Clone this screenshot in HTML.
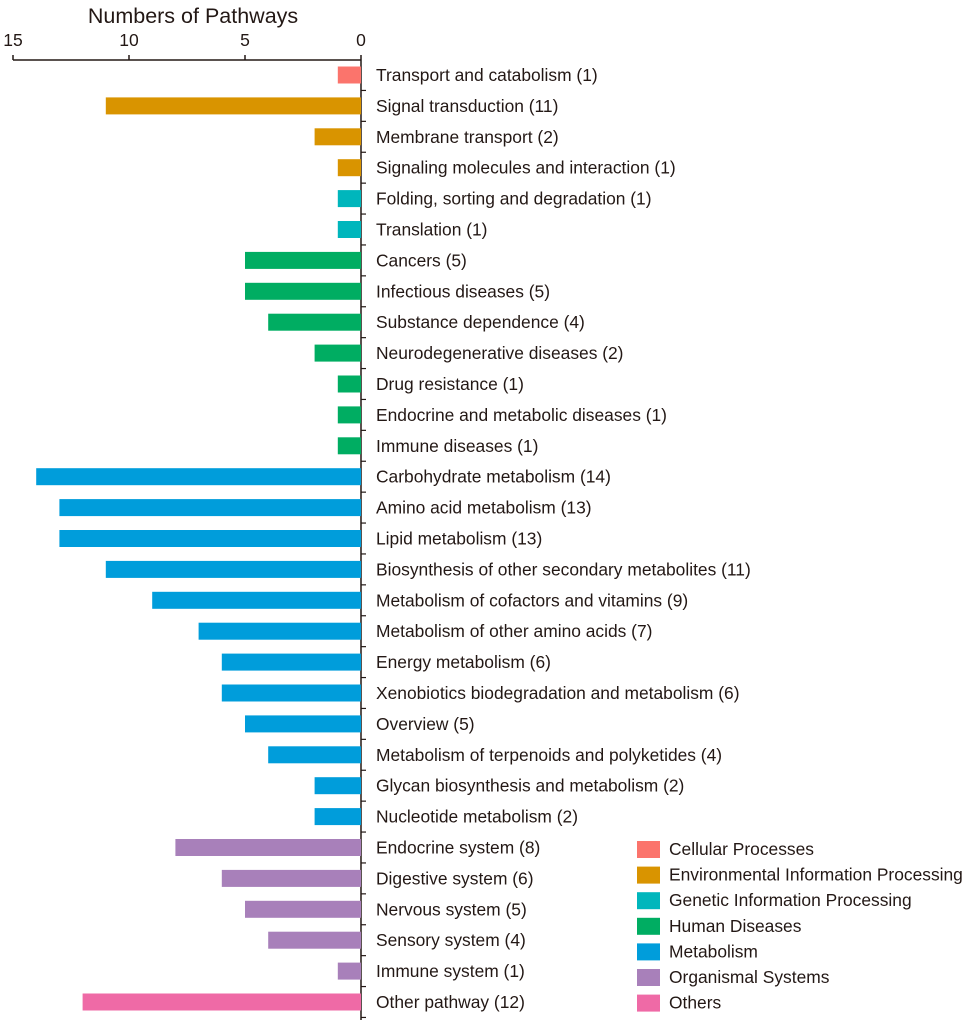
<!DOCTYPE html>
<html><head><meta charset="utf-8"><style>
body{margin:0;background:#fff;}
svg text{font-family:"Liberation Sans",Arial,sans-serif;fill:#231815;}
</style></head><body>
<svg id="chart" width="969" height="1024" xmlns="http://www.w3.org/2000/svg"></svg>
<script>
const categories=["Transport and catabolism","Signal transduction","Membrane transport","Signaling molecules and interaction","Folding, sorting and degradation","Translation","Cancers","Infectious diseases","Substance dependence","Neurodegenerative diseases","Drug resistance","Endocrine and metabolic diseases","Immune diseases","Carbohydrate metabolism","Amino acid metabolism","Lipid metabolism","Biosynthesis of other secondary metabolites","Metabolism of cofactors and vitamins","Metabolism of other amino acids","Energy metabolism","Xenobiotics biodegradation and metabolism","Overview","Metabolism of terpenoids and polyketides","Glycan biosynthesis and metabolism","Nucleotide metabolism","Endocrine system","Digestive system","Nervous system","Sensory system","Immune system","Other pathway"];
const values=[1,11,2,1,1,1,5,5,4,2,1,1,1,14,13,13,11,9,7,6,6,5,4,2,2,8,6,5,4,1,12];
const groups=[0,1,1,1,2,2,3,3,3,3,3,3,3,4,4,4,4,4,4,4,4,4,4,4,4,5,5,5,5,5,6];
const groupNames=["Cellular Processes","Environmental Information Processing","Genetic Information Processing","Human Diseases","Metabolism","Organismal Systems","Others"];
const groupColors=["#fb746c","#d99400","#00b6bc","#00ad62","#009ddb","#a880ba","#ef6aa6"];
const ticks=[0,5,10,15];

const NS="http://www.w3.org/2000/svg";
const svg=document.getElementById('chart');
const x0=361, unit=23.2, y0=75, step=30.9, bh=17;
const xs=v=>x0-v*unit;
const ys=i=>y0+i*step;
function mk(t,a,txt){const e=document.createElementNS(NS,t);for(const k in a)e.setAttribute(k,a[k]);if(txt!==undefined)e.textContent=txt;svg.appendChild(e);return e;}

let e=mk('text',{x:193,y:23,'font-size':21.5,'text-anchor':'middle'},'Numbers of Pathways');


e=mk('line',{x1:xs(15),x2:x0,y1:60,y2:60,stroke:'#231815','stroke-width':1.5});


ticks.forEach(t=>{
  let l=mk('line',{x1:xs(t),x2:xs(t),y1:55,y2:60,stroke:'#231815','stroke-width':1.5});
  
  
  let tx=mk('text',{x:xs(t),y:46,'font-size':17.5,'text-anchor':'middle'},String(t));
  
  
});
e=mk('line',{x1:x0,x2:x0,y1:60,y2:1020,stroke:'#231815','stroke-width':1.5});


categories.forEach((c,i)=>{
  const yc=ys(i);
  let r=mk('rect',{x:xs(values[i]),y:yc-bh/2,width:values[i]*unit,height:bh,fill:groupColors[groups[i]]});
  
  
  let t=mk('text',{x:376,y:yc+6,'font-size':17.4},c+' ('+values[i]+')');
  
  
  let tk=mk('line',{x1:x0,x2:x0+5,y1:yc+step/2,y2:yc+step/2,stroke:'#231815','stroke-width':1.2});
  
  
});
groupNames.forEach((g,i)=>{
  const yc=849+i*25.6;
  let r=mk('rect',{x:637,y:yc-8,width:23,height:17,fill:groupColors[i]});
  
  
  let t=mk('text',{x:669,y:yc+6,'font-size':17.4},g);
  
  
});
</script>
</body></html>
